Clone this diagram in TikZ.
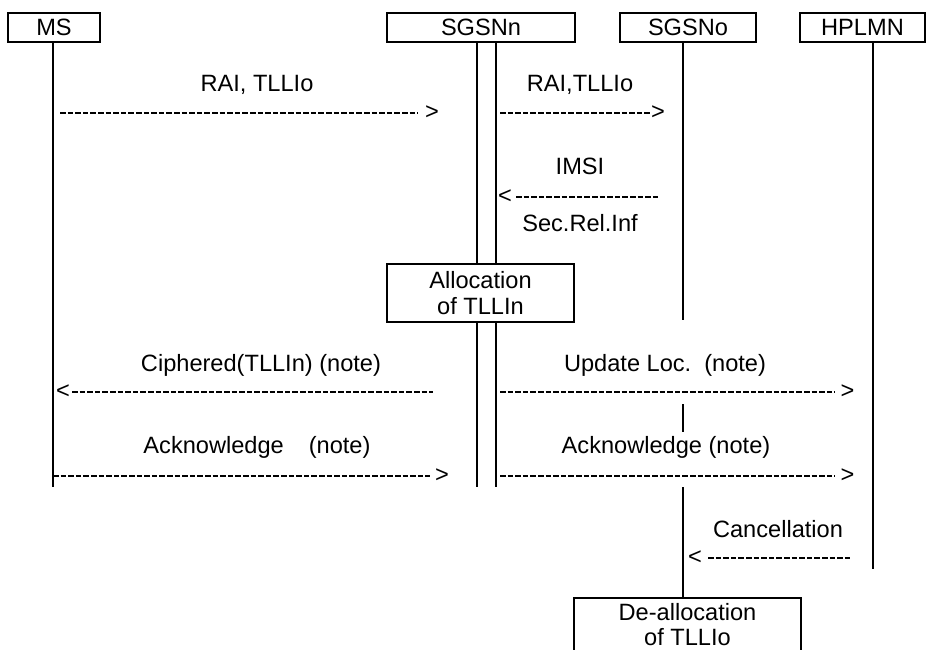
\documentclass[tikz,border=0pt]{standalone}
\usepackage{fontspec}
\setmainfont{Liberation Sans}
\begin{document}
\begin{tikzpicture}[x=1pt,y=-1pt,
  font=\fontsize{23.6}{26}\selectfont,
  box/.style={draw, line width=2.4pt, inner sep=0pt, align=center},
  life/.style={line width=2.2pt},
  msg/.style={line width=2.1pt, dash pattern=on 5.6pt off 2pt},
  lbl/.style={anchor=base, inner sep=0pt},
  tip/.style={inner sep=0pt, anchor=center}]
\clip (0,0) rectangle (929,650);
% header boxes
\node[box, minimum width=92pt, minimum height=29pt] (MS) at (54,27.5) {MS};
\node[box, minimum width=188pt, minimum height=29pt] (N) at (481,27.5) {SGSNn};
\node[box, minimum width=136pt, minimum height=29pt] (O) at (688,27.5) {SGSNo};
\node[box, minimum width=125pt, minimum height=29pt] (H) at (862.5,27.5) {HPLMN};
% action boxes
\node[box, minimum width=187pt, minimum height=58pt] (alloc) at (480.5,293) {Allocation\\of TLLIn};
\node[box, anchor=north, minimum width=227pt, inner ysep=5.5pt] (dealloc) at (687.5,597) {De-allocation\\[-1.5pt]of TLLIo};
% lifeline x positions
\coordinate (xMS) at (53,0);
\coordinate (xNa) at (477,0);
\coordinate (xNb) at (496,0);
\coordinate (xO) at (683,0);
\coordinate (xH) at (873,0);
\coordinate (msEnd) at (53,487);
\coordinate (naEnd) at (477,487);
\coordinate (nbEnd) at (496,487);
\coordinate (oEnd1) at (683,320);
\coordinate (oMidA) at (683,404);
\coordinate (oMidB) at (683,432);
\coordinate (oStart3) at (683,487);
\coordinate (hEnd) at (873,569);
% lifelines
\draw[life] (MS.south -| xMS) -- (msEnd);
\draw[life] (N.south -| xNa) -- (alloc.north -| xNa);
\draw[life] (N.south -| xNb) -- (alloc.north -| xNb);
\draw[life] (alloc.south -| xNa) -- (naEnd);
\draw[life] (alloc.south -| xNb) -- (nbEnd);
\draw[life] (O.south -| xO) -- (oEnd1);
\draw[life] (oMidA) -- (oMidB);
\draw[life] (oStart3) -- (dealloc.north -| xO);
\draw[life] (H.south -| xH) -- (hEnd);
% message 1
\node[lbl] (l1) at (257,92) {RAI, TLLIo};
\coordinate (m1a) at (60,113); \coordinate (m1b) at (418,113);
\draw[msg] (m1a) -- (m1b);
\node[tip] (t1) at (432,113) {>};
% message 2
\node[lbl] (l2) at (580,92) {RAI,TLLIo};
\coordinate (m2a) at (500,113); \coordinate (m2b) at (651,113);
\draw[msg] (m2a) -- (m2b);
\node[tip] (t2) at (658,113) {>};
% message 3
\node[lbl] (l3a) at (580,175) {IMSI};
\node[lbl] (l3b) at (580,231) {Sec.Rel.Inf};
\node[tip] (t3) at (505,197) {<};
\coordinate (m3a) at (516,197); \coordinate (m3b) at (658,197);
\draw[msg] (m3a) -- (m3b);
% message 4
\node[lbl] (l4) at (261,371) {Ciphered(TLLIn) (note)};
\node[tip] (t4) at (63,392) {<};
\coordinate (m4a) at (72,392); \coordinate (m4b) at (433,392);
\draw[msg] (m4a) -- (m4b);
% message 5
\node[lbl] (l5) at (665,371) {Update Loc.\hspace{13pt}(note)};
\coordinate (m5a) at (500,392); \coordinate (m5b) at (835,392);
\draw[msg] (m5a) -- (m5b);
\node[tip] (t5) at (847.5,392) {>};
% message 6
\node[lbl] (l6) at (257,453) {Acknowledge\hspace{25pt}(note)};
\coordinate (m6a) at (53,476); \coordinate (m6b) at (430,476);
\draw[msg] (m6a) -- (m6b);
\node[tip] (t6) at (442,476) {>};
% message 7
\node[lbl] (l7) at (666,453) {Acknowledge (note)};
\coordinate (m7a) at (500,476); \coordinate (m7b) at (835,476);
\draw[msg] (m7a) -- (m7b);
\node[tip] (t7) at (847.5,476) {>};
% message 8
\node[lbl] (l8) at (778,537) {Cancellation};
\node[tip] (t8) at (695,558) {<};
\coordinate (m8a) at (708,558); \coordinate (m8b) at (850,558);
\draw[msg] (m8a) -- (m8b);
\end{tikzpicture}
\end{document}
